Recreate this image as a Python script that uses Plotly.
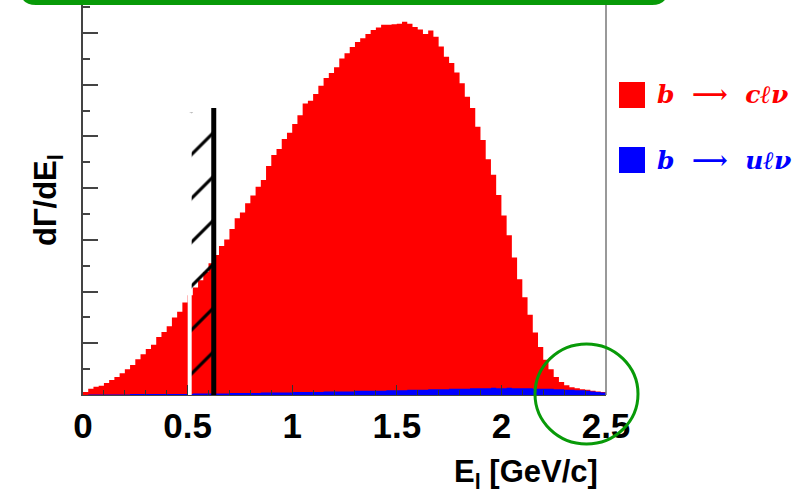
import plotly.graph_objects as go

# ---------------- data ----------------
bin_width = 0.025
bin_left = [round(i * bin_width, 3) for i in range(100)]   # 0 .. 2.475, 100 bins
x_max = 2.5

# visible top of the stacked histogram (b -> c l nu, drawn in red)
b_to_c = [0.06, 0.12, 0.16, 0.18, 0.23, 0.29, 0.35, 0.42, 0.50, 0.58,
          0.69, 0.79, 0.89, 0.97, 1.12, 1.22, 1.33, 1.50, 1.61, 1.79,
          1.93, 2.08, 2.22, 2.38, 2.55, 2.71, 2.88, 3.01, 3.21, 3.42,
          3.53, 3.71, 3.86, 4.03, 4.16, 4.43, 4.64, 4.76, 4.95, 5.07,
          5.24, 5.41, 5.64, 5.69, 5.82, 5.98, 6.13, 6.23, 6.34, 6.51,
          6.61, 6.73, 6.83, 6.90, 6.98, 7.06, 7.11, 7.16, 7.16, 7.17,
          7.18, 7.22, 7.18, 7.12, 7.07, 6.98, 7.05, 6.93, 6.74, 6.54,
          6.42, 6.24, 6.03, 5.77, 5.55, 5.19, 4.93, 4.56, 4.26, 3.87,
          3.47, 3.09, 2.66, 2.24, 1.89, 1.55, 1.21, 0.93, 0.68, 0.50,
          0.35, 0.25, 0.19, 0.15, 0.13, 0.11, 0.10, 0.08, 0.07, 0.06]

# b -> u l nu (blue)
b_to_u = [0.00, 0.01, 0.01, 0.01, 0.01, 0.01, 0.01, 0.01, 0.01, 0.02,
          0.02, 0.02, 0.02, 0.02, 0.02, 0.02, 0.02, 0.02, 0.02, 0.02,
          0.02, 0.03, 0.03, 0.03, 0.03, 0.03, 0.03, 0.03, 0.04, 0.04,
          0.04, 0.04, 0.04, 0.04, 0.05, 0.05, 0.05, 0.05, 0.05, 0.05,
          0.06, 0.06, 0.06, 0.06, 0.06, 0.06, 0.07, 0.07, 0.07, 0.07,
          0.07, 0.07, 0.08, 0.08, 0.08, 0.08, 0.08, 0.08, 0.09, 0.09,
          0.09, 0.09, 0.10, 0.10, 0.10, 0.10, 0.11, 0.11, 0.11, 0.11,
          0.12, 0.12, 0.12, 0.12, 0.13, 0.13, 0.13, 0.13, 0.14, 0.13,
          0.13, 0.14, 0.13, 0.13, 0.13, 0.13, 0.12, 0.12, 0.12, 0.12,
          0.11, 0.11, 0.10, 0.10, 0.09, 0.09, 0.08, 0.07, 0.06, 0.05]

cut_lo = 0.51        # white line
cut_hi = 0.625       # black line
hatch_top = 5.47
black_top = 5.55
y_max = 7.64

x_tick_vals = [0, 0.5, 1, 1.5, 2, 2.5]
x_tick_text = ["0", "0.5", "1", "1.5", "2", "2.5"]

label_c = "b\u00a0\u00a0\u27f6\u00a0\u00a0c\u2113\u03bd"
label_u = "b\u00a0\u00a0\u27f6\u00a0\u00a0u\u2113\u03bd"

# ---------------- layout helpers ----------------
W_FIG, H_FIG = 801, 494
L, T, PW, PH = 83, 0, 523, 395


def pp(x, y):
    """pixel -> paper"""
    return (x - L) / PW, (T + PH - y) / PH


RED = "#ff0000"
BLUE = "#0000ff"
GREEN = "#089a08"

fig = go.Figure()

step_x = bin_left + [x_max]
fig.add_trace(go.Scatter(x=step_x, y=b_to_c + [b_to_c[-1]], mode="lines",
                         line=dict(shape="hv", width=0, color=RED),
                         fill="tozeroy", fillcolor=RED, hoverinfo="skip"))
fig.add_trace(go.Scatter(x=step_x, y=b_to_u + [b_to_u[-1]], mode="lines",
                         line=dict(shape="hv", width=0, color=BLUE),
                         fill="tozeroy", fillcolor=BLUE, hoverinfo="skip"))

# hatched band (drawn above the histogram)
fig.add_trace(go.Scatter(x=[cut_lo, cut_lo, cut_hi, cut_hi, cut_lo],
                         y=[0, hatch_top, hatch_top, 0, 0], mode="lines",
                         line=dict(width=0, color="black"),
                         fill="toself", fillcolor="rgba(0,0,0,0)",
                         fillpattern=dict(shape="/", fgcolor="black", fgopacity=1,
                                          bgcolor="rgba(0,0,0,0)", size=31, solidity=0.1),
                         hoverinfo="skip"))
fig.add_trace(go.Scatter(x=[cut_lo, cut_lo], y=[0, hatch_top], mode="lines",
                         line=dict(color="white", width=4), hoverinfo="skip"))
fig.add_trace(go.Scatter(x=[cut_hi, cut_hi], y=[0, black_top], mode="lines",
                         line=dict(color="black", width=5), hoverinfo="skip"))

shapes = []
# right frame line
shapes.append(dict(type="line", xref="paper", yref="paper", x0=1, x1=1, y0=0, y1=1,
                   line=dict(color="#777777", width=1.5)))
# green rounded box at the top
bx0, bx1, byt, byb, r = 20, 668, -40, 5, 16
pts = [("M", bx0, byt), ("L", bx0, byb - r), ("Q", bx0, byb, bx0 + r, byb),
       ("L", bx1 - r, byb), ("Q", bx1, byb, bx1, byb - r), ("L", bx1, byt)]
path = ""
for p in pts:
    cmd = p[0]
    coords = p[1:]
    s = []
    for i in range(0, len(coords), 2):
        a, b = pp(coords[i], coords[i + 1])
        s.append(f"{a:.5f},{b:.5f}")
    path += cmd + " ".join(s) + " "
path += "Z"
shapes.append(dict(type="path", xref="paper", yref="paper", path=path,
                   fillcolor=GREEN, line=dict(width=0)))
# green circle
cx0, cy0 = pp(535, 444)
cx1, cy1 = pp(638, 344)
shapes.append(dict(type="circle", xref="paper", yref="paper", x0=cx0, y0=cy0, x1=cx1, y1=cy1,
                   line=dict(color=GREEN, width=3)))
# legend squares
for (y0p, col) in [(82, RED), (147, BLUE)]:
    a0, b0 = pp(619, y0p + 26)
    a1, b1 = pp(645, y0p)
    shapes.append(dict(type="rect", xref="paper", yref="paper", x0=a0, y0=b0, x1=a1, y1=b1,
                       fillcolor=col, line=dict(width=0)))

annotations = []
for txt, col, yc in [(label_c, RED, 95), (label_u, BLUE, 160)]:
    ax, ay = pp(655, yc)
    annotations.append(dict(xref="paper", yref="paper", x=ax, y=ay, xanchor="left", yanchor="middle",
                            text=f"<b><i>{txt}</i></b>", showarrow=False,
                            font=dict(family="DejaVu Serif", size=25, color=col)))
ax, ay = pp(600, 474)
annotations.append(dict(xref="paper", yref="paper", x=ax, y=ay, xanchor="right", yanchor="middle",
                        text="<b>E<sub>l</sub> [GeV/c]</b>", showarrow=False,
                        font=dict(family="Liberation Sans", size=31, color="black")))
ax, ay = pp(48, 200)
annotations.append(dict(xref="paper", yref="paper", x=ax, y=ay, xanchor="center", yanchor="middle",
                        text="<b>d\u0393/dE<sub>l</sub></b>", showarrow=False, textangle=-90,
                        font=dict(family="Liberation Sans", size=31, color="black")))

fig.update_layout(
    width=W_FIG, height=H_FIG,
    margin=dict(l=L, r=W_FIG - L - PW, t=T, b=H_FIG - T - PH, pad=0),
    paper_bgcolor="white", plot_bgcolor="white",
    showlegend=False,
    shapes=shapes, annotations=annotations,
    xaxis=dict(range=[0, x_max], showgrid=False, zeroline=False,
               showline=True, linecolor="#444444", linewidth=1,
               ticks="inside", ticklen=10, tickwidth=1, tickcolor="#333333",
               tickvals=x_tick_vals, ticktext=x_tick_text,
               tickfont=dict(family="Liberation Sans", size=35, color="black", weight="bold"),
               minor=dict(dtick=0.1, ticks="inside", ticklen=5, tickwidth=1, tickcolor="#333333")),
    yaxis=dict(range=[0, y_max], showgrid=False, zeroline=False,
               showline=True, linecolor="#444444", linewidth=2,
               ticks="inside", ticklen=15, tickwidth=1.5, tickcolor="#444444",
               dtick=1, tick0=0, showticklabels=False,
               minor=dict(dtick=0.5, ticks="inside", ticklen=7, tickwidth=1.5, tickcolor="#444444")),
)

fig.write_html("out.html")
